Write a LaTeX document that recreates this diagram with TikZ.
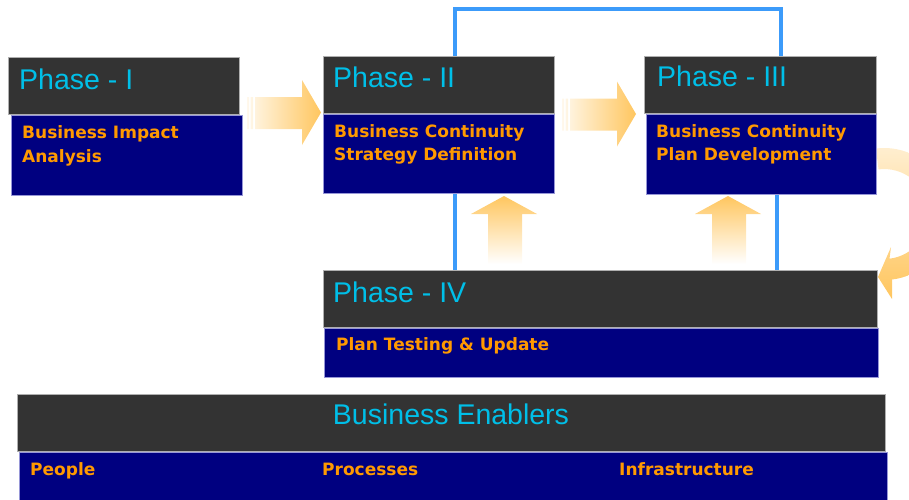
\documentclass[tikz,border=0pt]{standalone}
\usepackage{fontspec}
\setmainfont{Liberation Sans}
\newfontfamily\dejavu{DejaVu Sans}
\definecolor{hdrfill}{RGB}{51,51,51}
\definecolor{hdrline}{RGB}{175,175,175}
\definecolor{bodyfill}{RGB}{0,0,128}
\definecolor{bodyline}{RGB}{150,150,215}
\definecolor{titlecyan}{RGB}{0,191,232}
\definecolor{labelorange}{RGB}{255,153,0}
\definecolor{arrowOr}{RGB}{255,198,95}
\definecolor{linkblue}{RGB}{60,155,250}
\begin{document}
\begin{tikzpicture}[x=1pt,y=-1pt,
  hdr/.style={draw=hdrline, fill=hdrfill, line width=1pt, inner sep=0pt, anchor=north west},
  bodybox/.style={draw=bodyline, fill=bodyfill, line width=1pt, inner sep=0pt, anchor=north west},
  htext/.style={text=titlecyan, font=\fontsize{28.5}{34}\selectfont, inner sep=0pt},
  btext/.style={text=labelorange, font=\dejavu\bfseries\fontsize{17}{24}\selectfont, inner sep=0pt, anchor=base west},
  link/.style={draw=linkblue, line width=3.5pt, line join=miter}
]
\useasboundingbox (0,0) rectangle (909,499);

% --- shaded flow arrows (drawn first, boxes sit above) ---
\begin{scope}
  \clip (0,0) rectangle (909,499);
  % right-pointing arrows between the phases
  \foreach \dx/\dy in {0/0, 315/1.5} {
    \begin{scope}[shift={(\dx,\dy)}]
      \shade[left color=arrowOr!12!white, right color=arrowOr]
        (247,97) rectangle (249,129)
        (250.7,97) rectangle (253,129)
        (255,97) -- (302,97) -- (302,80) -- (321,112.5) -- (302,145)
        -- (302,129) -- (255,129) -- cycle;
    \end{scope}
  }
  % upward arrows from phase IV
  \foreach \dx in {0, 224} {
    \begin{scope}[shift={(\dx,0)}]
      \shade[top color=arrowOr, bottom color=white]
        (504,196) -- (537,214) -- (522,214) -- (522,264) -- (488,264)
        -- (488,214) -- (471,214) -- cycle;
    \end{scope}
  }
  % curved return arrow from phase III to phase IV
  \shade[top color=arrowOr!28!white, bottom color=arrowOr]
    (884,214) ++(-97:66) arc[start angle=-97, end angle=83, radius=66]
    -- (892,299) -- (878,277) -- (891,247) -- (889.5,258.7)
    arc[start angle=83, end angle=-97, radius=45] -- cycle;
\end{scope}

% --- phase boxes ---
\node[hdr, minimum width=231pt, minimum height=57pt] (h1) at (8,57) {};
\node[bodybox, minimum width=231pt, minimum height=80pt] (b1) at (11,115) {};
\node[hdr, minimum width=231pt, minimum height=57pt] (h2) at (323,56) {};
\node[bodybox, minimum width=231pt, minimum height=79pt] (b2) at (323,114) {};
\node[hdr, minimum width=232pt, minimum height=57pt] (h3) at (644,56) {};
\node[bodybox, minimum width=230pt, minimum height=80pt] (b3) at (646,114) {};
\node[hdr, minimum width=554pt, minimum height=57pt] (h4) at (323,270) {};
\node[bodybox, minimum width=554pt, minimum height=49pt] (b4) at (324,328) {};
\node[hdr, minimum width=868pt, minimum height=57pt] (h5) at (17,394) {};
\node[bodybox, minimum width=868pt, minimum height=52pt] (b5) at (19,452) {};

% --- titles ---
\node[htext, anchor=base west] (t1) at (19,89) {Phase - I};
\node[htext, anchor=base west] (t2) at (333,87) {Phase - II};
\node[htext, anchor=base west] (t3) at (657,86) {Phase - III};
\node[htext, anchor=base west] (t4) at (333,302) {Phase - IV};
\node[htext, anchor=base] (t5) at (451,424) {Business Enablers};

% --- descriptions ---
\node[btext] (d1a) at (22,138) {Business Impact};
\node[btext] (d1b) at (22,162) {Analysis};
\node[btext] (d2a) at (334,137) {Business Continuity};
\node[btext] (d2b) at (334,160) {Strategy Definition};
\node[btext] (d3a) at (656,137) {Business Continuity};
\node[btext] (d3b) at (656,160) {Plan Development};
\node[btext] (d4) at (336,350) {Plan Testing \& Update};
\node[btext] (e1) at (30,475) {People};
\node[btext] (e2) at (322,475) {Processes};
\node[btext] (e3) at (619,475) {Infrastructure};

% --- blue links ---
\coordinate (l1) at (455,9);
\coordinate (l2) at (781,9);
\coordinate (l3) at (777,0);
\draw[link] (h2.north -| l1) -- (l1) -- (l2) -- (h3.north -| l2);
\draw[link] (b2.south -| l1) -- (h4.north -| l1);
\draw[link] (b3.south -| l3) -- (h4.north -| l3);
\end{tikzpicture}
\end{document}
